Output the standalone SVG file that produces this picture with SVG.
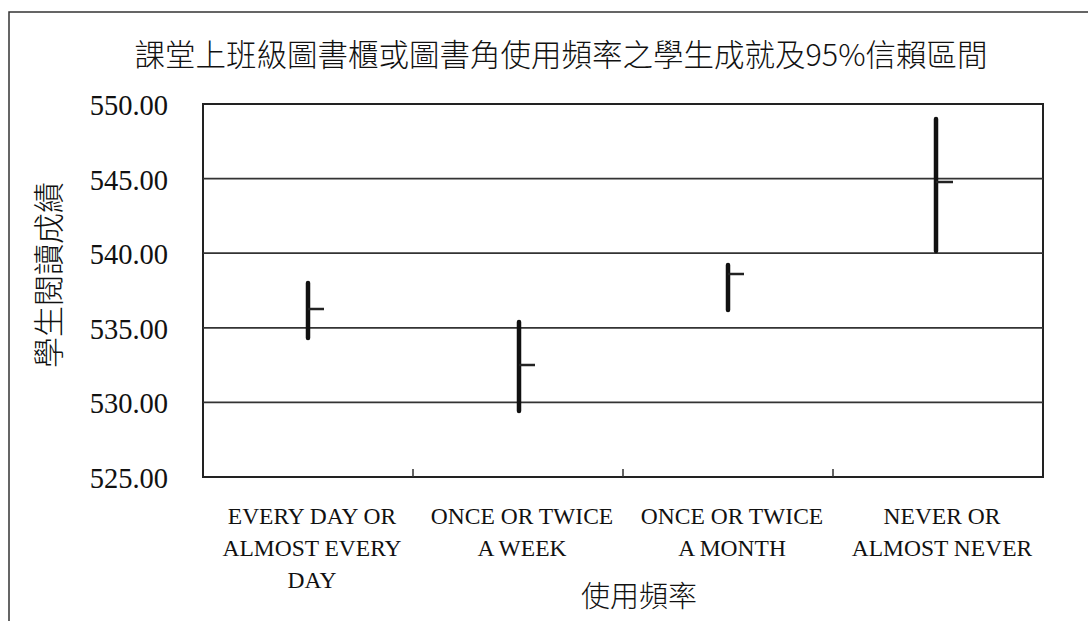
<svg xmlns="http://www.w3.org/2000/svg" width="1088" height="621" viewBox="0 0 1088 621">
<style>
.frame{fill:none;stroke:#333;stroke-width:1.5}
.plot{fill:#fff;stroke:#222;stroke-width:2}
.grid{stroke:#333;stroke-width:1.8}
.tick{stroke:#333;stroke-width:1.5}
.bar{stroke:#111;stroke-width:4.5;stroke-linecap:round}
.mean{stroke:#222;stroke-width:2.5}
.cjk{font-family:"Noto Sans CJK TC","Liberation Sans",sans-serif;fill:#111;font-weight:300}
.num{font-family:"Liberation Serif",serif;font-size:28.5px;fill:#111;text-anchor:end}
.cat{font-family:"Liberation Serif",serif;font-size:23.5px;fill:#111;text-anchor:middle}
</style>
<rect width="1088" height="621" fill="#fff"/>
<path class="frame" d="M9,621 V12 H1088"/>
<text class="cjk" x="561" y="66" font-size="30.5" text-anchor="middle">課堂上班級圖書櫃或圖書角使用頻率之學生成就及95%信賴區間</text>
<g id="plot">
<rect class="plot" x="203" y="104" width="840" height="373"/>
<g id="gridlines">
<line class="grid" x1="203" y1="178.6" x2="1043" y2="178.6"/>
<line class="grid" x1="203" y1="253.2" x2="1043" y2="253.2"/>
<line class="grid" x1="203" y1="327.8" x2="1043" y2="327.8"/>
<line class="grid" x1="203" y1="402.4" x2="1043" y2="402.4"/>
</g>
<line class="tick" x1="413" y1="469" x2="413" y2="477"/>
<line class="tick" x1="623" y1="469" x2="623" y2="477"/>
<line class="tick" x1="833" y1="469" x2="833" y2="477"/>
</g>
<g id="yaxis">
<text class="num" x="168" y="115">550.00</text>
<text class="num" x="168" y="189.6">545.00</text>
<text class="num" x="168" y="264.2">540.00</text>
<text class="num" x="168" y="338.8">535.00</text>
<text class="num" x="168" y="413.4">530.00</text>
<text class="num" x="168" y="488">525.00</text>
<text class="cjk" x="0" y="0" font-size="31" text-anchor="middle" transform="translate(60,275) rotate(-90)">學生閱讀成績</text>
</g>
<g id="connectors">
<g id="bar1"><line class="bar" x1="308" y1="283" x2="308" y2="338"/><line class="mean" x1="308" y1="309" x2="324" y2="309"/></g>
<g id="bar2"><line class="bar" x1="519" y1="322" x2="519" y2="411"/><line class="mean" x1="519" y1="365" x2="535" y2="365"/></g>
<g id="bar3"><line class="bar" x1="728" y1="265" x2="728" y2="310"/><line class="mean" x1="728" y1="274" x2="744" y2="274"/></g>
<g id="bar4"><line class="bar" x1="936" y1="119" x2="936" y2="251"/><line class="mean" x1="936" y1="182" x2="953" y2="182"/></g>
</g>
<g id="xaxis">
<text class="cat" x="312" y="524">EVERY DAY OR</text>
<text class="cat" x="312" y="556">ALMOST EVERY</text>
<text class="cat" x="312" y="588">DAY</text>
<text class="cat" x="522" y="524">ONCE OR TWICE</text>
<text class="cat" x="522" y="556">A WEEK</text>
<text class="cat" x="732" y="524">ONCE OR TWICE</text>
<text class="cat" x="732" y="556">A MONTH</text>
<text class="cat" x="942" y="524">NEVER OR</text>
<text class="cat" x="942" y="556">ALMOST NEVER</text>
<text class="cjk" x="639" y="607" font-size="29" text-anchor="middle">使用頻率</text>
</g>
</svg>
